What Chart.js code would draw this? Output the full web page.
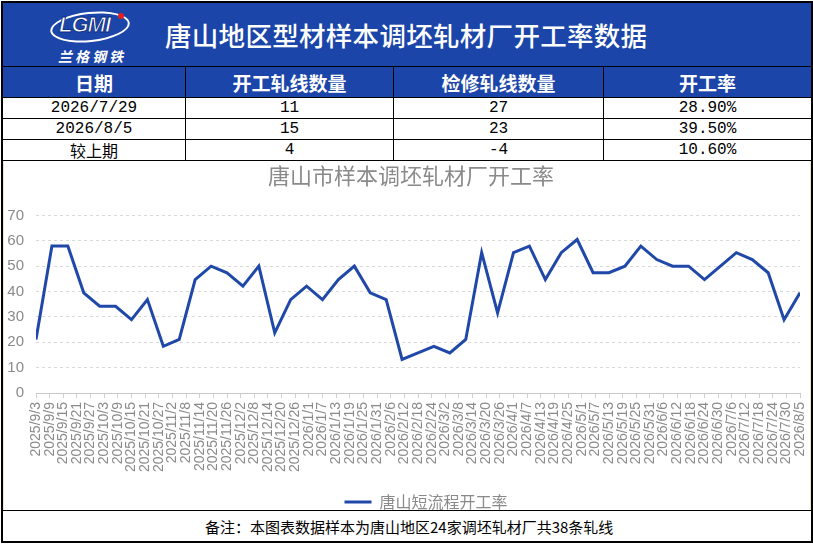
<!DOCTYPE html>
<html>
<head>
<meta charset="utf-8">
<script src="https://cdn.jsdelivr.net/npm/chart.js@4.4.1/dist/chart.umd.min.js"></script>
<style>
  body { margin: 0; background: #fff; font-family: "Noto Sans CJK SC", sans-serif; }
  #frame { position: absolute; left: 1px; top: 1px; width: 808px; height: 538px; border: 2px solid #000; overflow: hidden; }
  #head { position: absolute; left: 0; top: 0; width: 808px; height: 63px; background: #1b45a8; color: #fff; }
  #head .title { position: absolute; left: 162px; top: 0; line-height: 63px; font-size: 26.5px; font-weight: 500; letter-spacing: 0.3px; }
  #logo { position: absolute; left: 47px; top: 9px; width: 80px; height: 30px; }
  #logo .ring { position: absolute; left: 0; top: 0; width: 76px; height: 26px; border: 2px solid #fff; border-radius: 50%; transform: rotate(-6deg); }
  #logo .txt { position: absolute; left: 9px; top: 0px; font: italic bold 22px "Liberation Sans", sans-serif; color: #fff; letter-spacing: -1px; -webkit-text-stroke: 1px #0d2f86; }
  #logo .dot { position: absolute; left: 68px; top: 1px; width: 6px; height: 6px; border-radius: 50%; background: #e02020; }
  #logo .cn { position: absolute; left: 8px; top: 34px; width: 80px; font-size: 14px; font-weight: 700; letter-spacing: 3px; font-style: italic; }
  .row { position: absolute; left: 0; width: 808px; display: flex; border-top: 1px solid #000; }
  .row div { box-sizing: border-box; text-align: center; border-left: 1px solid #000; }
  .row div:first-child { border-left: none; }
  .c1 { width: 182px; } .c2 { width: 208px; } .c3 { width: 210px; } .c4 { width: 208px; }
  .hrow { top: 63px; height: 31px; background: #1b45a8; color: #fff; font-size: 19px; font-weight: 700; line-height: 31px; }
  .drow { height: 20px; font: 16px "Liberation Mono", "Noto Sans CJK SC", monospace; line-height: 20px; color: #000; }
  .drow .cn { font-family: "Noto Sans CJK SC", sans-serif; font-size: 16px; }
  #chartbox { position: absolute; left: 0; top: 157px; width: 808px; height: 349px; border-top: 1px solid #000; overflow: hidden; }
  #chartin { position: absolute; left: 0; top: 0; width: 806px; height: 359px; border-left: 1px solid #f6e2c4; border-right: 1px solid #f6e2c4; }
  #foot { position: absolute; left: 0; top: 507px; width: 808px; height: 31px; border-top: 1px solid #000; background: #fff; font-size: 15px; line-height: 31px; color: #000; }
  #foot span { position: absolute; left: 202px; }
</style>
</head>
<body>
<div id="frame">
  <div id="head">
    <div id="logo">
      <div class="ring"></div>
      <div class="txt">LGMI</div>
      <div class="dot"></div>
      <div class="cn">兰格钢铁</div>
    </div>
    <div class="title">唐山地区型材样本调坯轧材厂开工率数据</div>
  </div>
  <div class="row hrow">
    <div class="c1">日期</div><div class="c2">开工轧线数量</div><div class="c3">检修轧线数量</div><div class="c4">开工率</div>
  </div>
  <div id="rows"></div>
  <div id="chartbox"><div id="chartin"><canvas id="rate-graph"></canvas></div></div>
  <div id="foot"><span>备注：本图表数据样本为唐山地区24家调坯轧材厂共38条轧线</span></div>
</div>

<script>
// table values
const tableDates = ['2026/7/29', '2026/8/5', '较上期'];
const runningLines = ['11', '15', '4'];
const repairLines = ['27', '23', '-4'];
const rateText = ['28.90%', '39.50%', '10.60%'];

// weekly data points
const dates = [
  '2025/9/3', '2025/9/10', '2025/9/17', '2025/9/24', '2025/10/1', '2025/10/8', '2025/10/15',
  '2025/10/22', '2025/10/29', '2025/11/5', '2025/11/12', '2025/11/19', '2025/11/26', '2025/12/3',
  '2025/12/10', '2025/12/17', '2025/12/24', '2025/12/31', '2026/1/7', '2026/1/14', '2026/1/21',
  '2026/1/28', '2026/2/4', '2026/2/11', '2026/2/18', '2026/2/25', '2026/3/4', '2026/3/11',
  '2026/3/18', '2026/3/25', '2026/4/1', '2026/4/8', '2026/4/15', '2026/4/22', '2026/4/29',
  '2026/5/6', '2026/5/13', '2026/5/20', '2026/5/27', '2026/6/3', '2026/6/10', '2026/6/17',
  '2026/6/24', '2026/7/1', '2026/7/8', '2026/7/15', '2026/7/22', '2026/7/29', '2026/8/5'
];
const rates = [
  21.1, 57.9, 57.9, 39.5, 34.2, 34.2, 28.9, 36.8, 18.4, 21.1, 44.7, 50.0, 47.4, 42.1,
  50.0, 23.7, 36.8, 42.1, 36.8, 44.7, 50.0, 39.5, 36.8, 13.2, 15.8, 18.4, 15.8, 21.1,
  55.3, 31.6, 55.3, 57.9, 44.7, 55.3, 60.5, 47.4, 47.4, 50.0, 57.9, 52.6, 50.0, 50.0,
  44.7, 50.0, 55.3, 52.6, 47.4, 28.9, 39.5
];

// axis labels every 6 days, as in the picture
const tickLabels = [
  '2025/9/3', '2025/9/9', '2025/9/15', '2025/9/21', '2025/9/27', '2025/10/3', '2025/10/9',
  '2025/10/15', '2025/10/21', '2025/10/27', '2025/11/2', '2025/11/8', '2025/11/14', '2025/11/20',
  '2025/11/26', '2025/12/2', '2025/12/8', '2025/12/14', '2025/12/20', '2025/12/26', '2026/1/1',
  '2026/1/7', '2026/1/13', '2026/1/19', '2026/1/25', '2026/1/31', '2026/2/6', '2026/2/12',
  '2026/2/18', '2026/2/24', '2026/3/2', '2026/3/8', '2026/3/14', '2026/3/20', '2026/3/26',
  '2026/4/1', '2026/4/7', '2026/4/13', '2026/4/19', '2026/4/25', '2026/5/1', '2026/5/7',
  '2026/5/13', '2026/5/19', '2026/5/25', '2026/5/31', '2026/6/6', '2026/6/12', '2026/6/18',
  '2026/6/24', '2026/6/30', '2026/7/6', '2026/7/12', '2026/7/18', '2026/7/24', '2026/7/30', '2026/8/5'
];
const yTicks = [0, 10, 20, 30, 40, 50, 60, 70];

const seriesName = '唐山短流程开工率';
const chartTitle = '唐山市样本调坯轧材厂开工率';

// build table rows
const rowsEl = document.getElementById('rows');
tableDates.forEach((d, i) => {
    const row = document.createElement('div');
    row.className = 'row drow';
    row.style.top = (94 + i * 21) + 'px';
    const cls = /\d/.test(d) ? '' : ' cn';
    row.innerHTML = '<div class="c1' + cls + '">' + d + '</div><div class="c2">' + runningLines[i] +
        '</div><div class="c3">' + repairLines[i] + '</div><div class="c4">' + rateText[i] + '</div>';
    rowsEl.appendChild(row);
});

// days from first date
function dayNum(s) {
    const p = s.split('/').map(Number);
    return Date.UTC(p[0], p[1] - 1, p[2]) / 86400000;
}
const day0 = dayNum(dates[0]);
const points = dates.map((d, i) => ({x: dayNum(d) - day0, y: rates[i]}));

const lineColor = '#1f48a9';
const grey = '#8a8a8a';

// excel puts title and legend a bit right of centre
const boxShift = {
    id: 'boxShift',
    afterLayout(chart) {
        chart.legend.left += 24;
        chart.legend.right += 24;
        chart.titleBlock.left += 9;
        chart.titleBlock.right += 9;
    }
};

const ctx = document.getElementById('rate-graph').getContext('2d');
const rateChart = new Chart(ctx, {
    type: 'line',
    data: {
        datasets: [{
            label: seriesName,
            data: points,
            borderColor: lineColor,
            backgroundColor: lineColor,
            borderWidth: 3,
            pointRadius: 0,
            tension: 0,
        }]
    },
    plugins: [boxShift],
    options: {
        responsive: true,
        maintainAspectRatio: false,
        animation: false,
        layout: {
            padding: {left: 0, right: 10, top: 0, bottom: 0}
        },
        plugins: {
            title: {
                display: true,
                text: chartTitle,
                color: grey,
                font: {family: 'Noto Sans CJK SC', size: 22, weight: 'normal'},
                padding: {top: 1, bottom: 27},
            },
            legend: {
                display: true,
                position: 'bottom',
                labels: {
                    color: grey,
                    font: {family: 'Noto Sans CJK SC', size: 16},
                    usePointStyle: true,
                    pointStyle: 'line',
                    pointStyleWidth: 27,
                    padding: 2,
                },
            },
            tooltip: {enabled: false},
        },
        scales: {
            x: {
                type: 'linear',
                min: 0,
                max: (tickLabels.length - 1) * 6,
                grid: {
                    drawOnChartArea: false,
                    drawTicks: true,
                    tickLength: 5,
                    color: '#d0d0d0',
                },
                border: {display: true, color: '#c8c8c8'},
                ticks: {
                    stepSize: 6,
                    autoSkip: false,
                    maxRotation: 90,
                    minRotation: 90,
                    padding: 4,
                    color: grey,
                    font: {family: 'Liberation Sans', size: 14},
                    callback: (value, index) => tickLabels[index],
                },
                afterFit: (scale) => {
                    scale.height = 99;
                    scale.paddingLeft = 0;
                    scale.paddingRight = 0;
                },
            },
            y: {
                min: yTicks[0],
                max: yTicks[yTicks.length - 1],
                grid: {
                    color: '#d9d9d9',
                    drawTicks: false,
                },
                border: {display: false, dash: [3, 3]},
                ticks: {
                    stepSize: 10,
                    padding: 12,
                    color: grey,
                    font: {family: 'Liberation Sans', size: 15},
                },
                afterFit: (scale) => { scale.width = 32; },
            }
        }
    }
});
</script>
</body>
</html>
